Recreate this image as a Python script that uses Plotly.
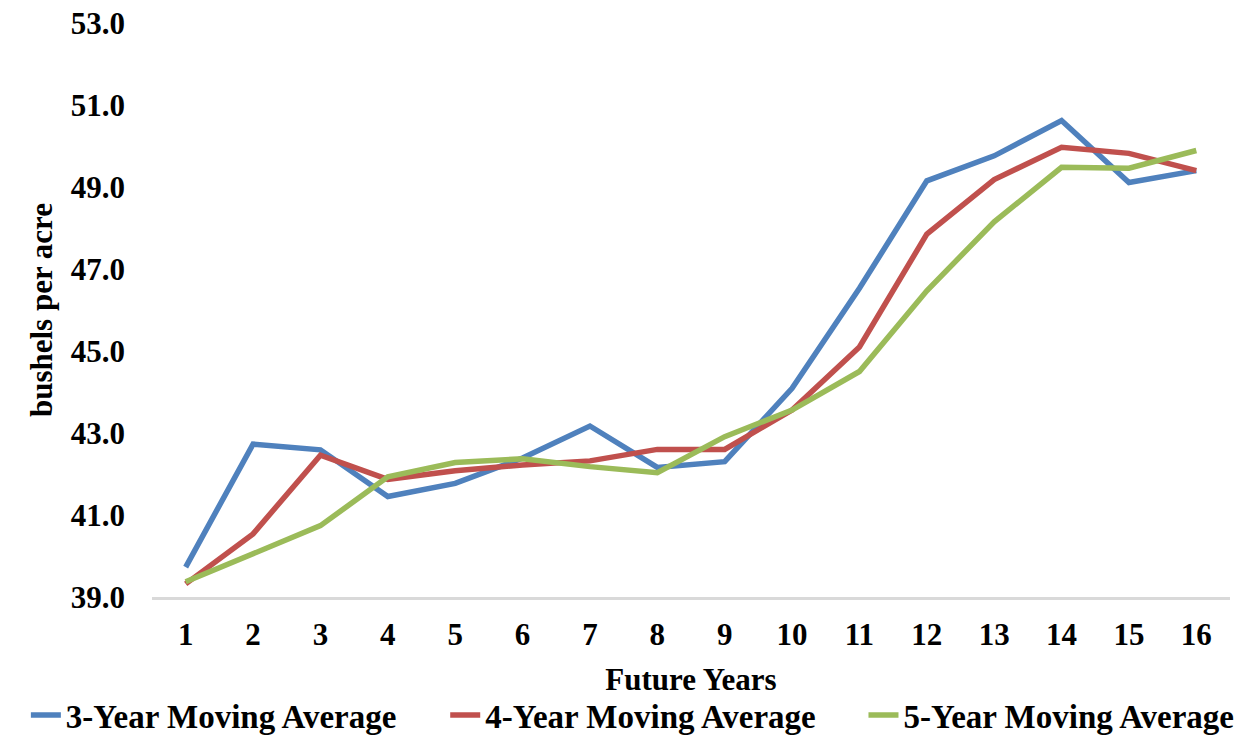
import plotly.graph_objects as go

# Future years on the category axis
years = [str(i) for i in range(1, 17)]

# Moving-average yields (bushels per acre)
ma3 = [39.73, 42.73, 42.59, 41.45, 41.77, 42.39, 43.17, 42.16,
       42.30, 44.09, 46.53, 49.15, 49.76, 50.62, 49.11, 49.40]
ma4 = [39.32, 40.54, 42.46, 41.87, 42.08, 42.22, 42.32, 42.60,
       42.60, 43.56, 45.10, 47.85, 49.18, 49.97, 49.82, 49.40]
ma5 = [39.37, 40.05, 40.74, 41.93, 42.28, 42.37, 42.18, 42.03,
       42.91, 43.56, 44.50, 46.47, 48.15, 49.48, 49.46, 49.89]

y_ticks = [39, 41, 43, 45, 47, 49, 51, 53]

series = [
    ("3-Year Moving Average", ma3, "#4F81BD", "legend", -0.117),
    ("4-Year Moving Average", ma4, "#C0504D", "legend2", 0.272),
    ("5-Year Moving Average", ma5, "#9BBB59", "legend3", 0.660),
]

font_family = "Liberation Serif, Times New Roman, serif"
legend_font = dict(family=font_family, size=33, color="black", weight="bold")

fig = go.Figure()
legends = {}
for name, vals, color, leg, lx in series:
    fig.add_trace(go.Scatter(
        x=years, y=vals, mode="lines", name=name,
        line=dict(color=color, width=5.5), legend=leg,
    ))
    # one single-entry legend per series, laid out in a row under the axis
    legends[leg] = dict(
        orientation="h", x=lx, xanchor="left", y=-0.157, yanchor="top",
        font=legend_font, bgcolor="rgba(0,0,0,0)", itemwidth=30,
    )

fig.update_layout(
    width=1243, height=736,
    margin=dict(l=152, r=13, t=23, b=139, autoexpand=False),
    paper_bgcolor="white", plot_bgcolor="white",
    font=dict(family=font_family, color="black", size=30),
    showlegend=True,
    **legends,
    xaxis=dict(
        type="category", range=[-0.5, 15.5],
        showgrid=False, zeroline=False,
        showline=True, linecolor="#d9d9d9", linewidth=3,
        ticks="", ticklabelstandoff=8,
        tickfont=dict(family=font_family, size=31, color="black", weight="bold"),
        title=dict(text="<b>Future Years</b>", standoff=18,
                   font=dict(family=font_family, size=31, color="black")),
    ),
    yaxis=dict(
        range=[39, 53], tickvals=y_ticks,
        ticktext=[f"{v:.1f}" for v in y_ticks],
        showgrid=False, zeroline=False, showline=False,
        ticks="", ticklabelstandoff=26,
        tickfont=dict(family=font_family, size=31, color="black", weight="bold"),
        title=dict(text="<b>bushels per acre</b>", standoff=8,
                   font=dict(family=font_family, size=31, color="black")),
    ),
)

fig.write_html("out.html")
